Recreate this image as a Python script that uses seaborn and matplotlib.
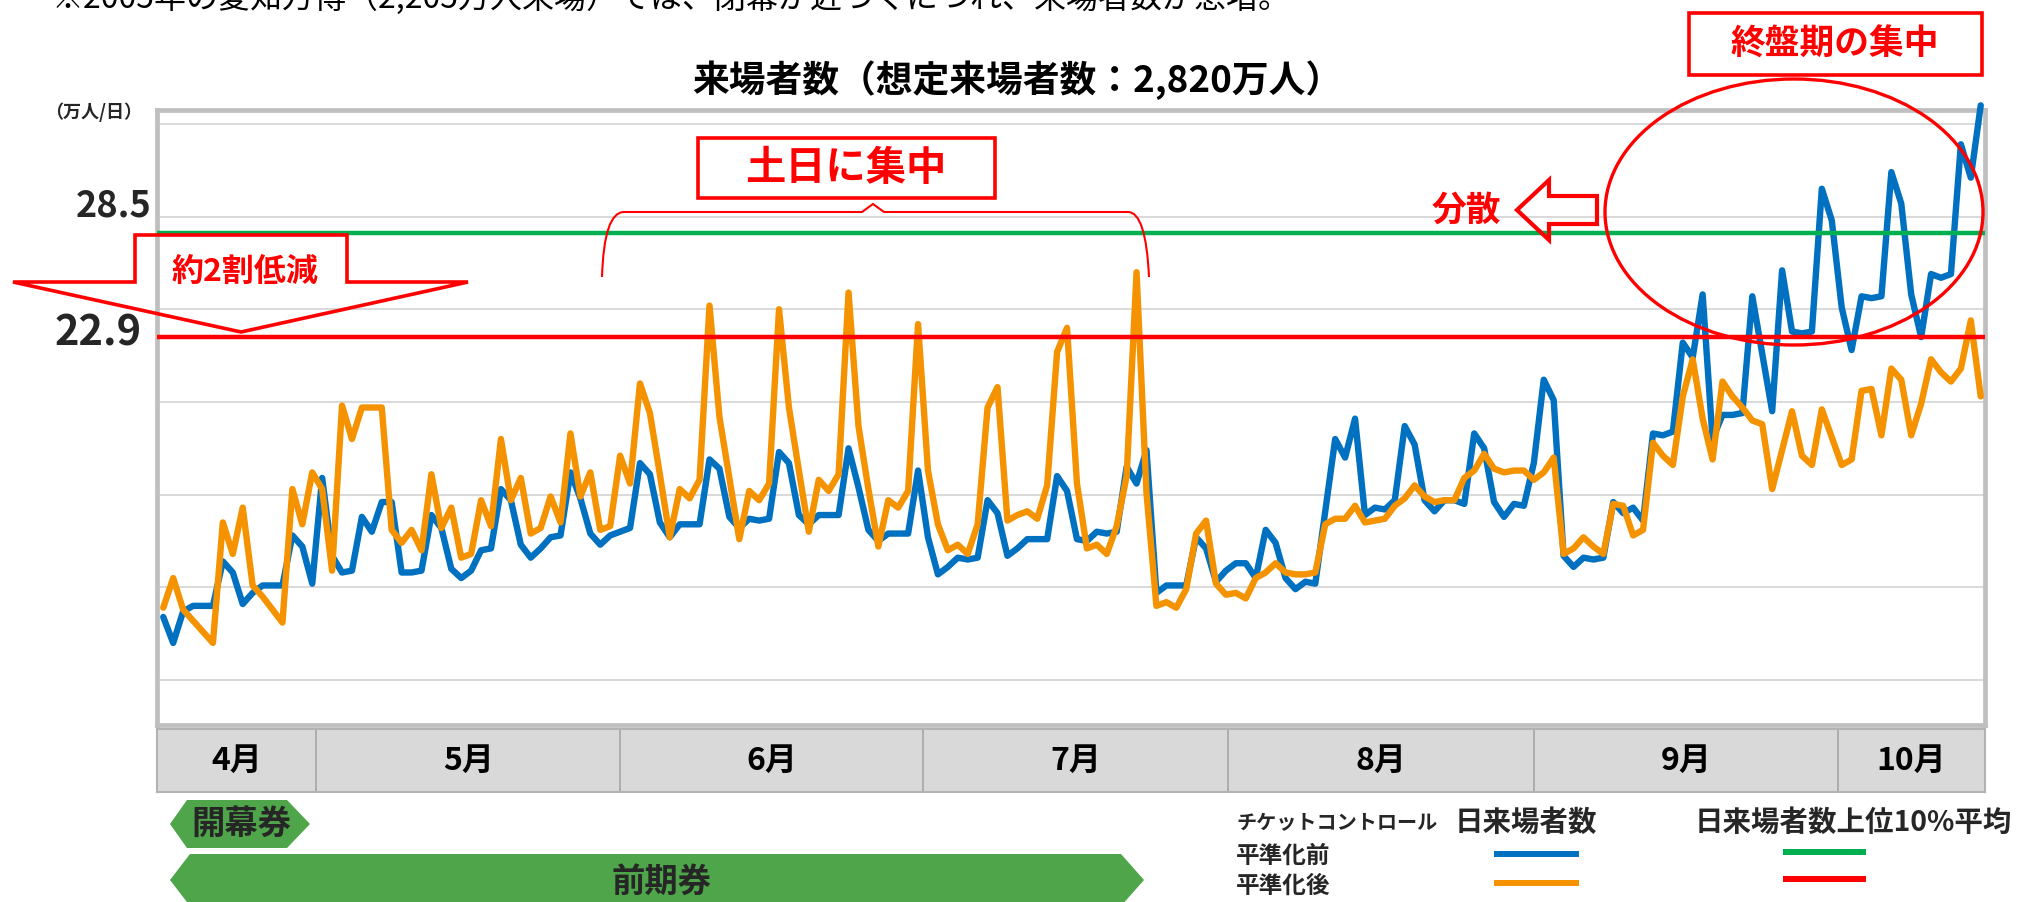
import numpy as np
import pandas as pd
import matplotlib
matplotlib.use("Agg")
import matplotlib.pyplot as plt
from matplotlib.patches import Polygon, Rectangle, Ellipse, PathPatch
from matplotlib.path import Path
import seaborn as sns

# daily visitors (万人/日), 2025-04-13 .. 2025-10-13
before = [
    7.8, 6.4, 8.1, 8.4, 8.4, 8.4, 10.8, 10.2, 8.5, 9.1,
    9.5, 9.5, 9.5, 12.2, 11.6, 9.6, 15.3, 11.1, 10.2, 10.3,
    13.2, 12.4, 14.0, 14.0, 10.2, 10.2, 10.3, 13.3, 12.6, 10.4,
    9.9, 10.3, 11.4, 11.5, 14.7, 14.1, 11.7, 11.0, 11.5, 12.1,
    12.2, 15.6, 14.2, 12.3, 11.7, 12.2, 12.4, 12.6, 16.1, 15.5,
    12.9, 12.1, 12.8, 12.8, 12.8, 16.3, 15.8, 13.2, 12.6, 13.1,
    13.0, 13.1, 16.7, 16.1, 13.3, 12.8, 13.3, 13.3, 13.3, 16.9,
    14.8, 12.5, 11.9, 12.3, 12.3, 12.3, 15.7, 12.1, 10.1, 10.5,
    11.0, 10.9, 11.0, 14.1, 13.4, 11.1, 11.5, 12.0, 12.0, 12.0,
    15.4, 14.6, 12.0, 11.9, 12.4, 12.3, 12.4, 15.9, 15.0, 16.8,
    9.1, 9.5, 9.5, 9.5, 12.1, 11.5, 9.7, 10.3, 10.7, 10.7,
    9.9, 12.5, 11.8, 9.9, 9.3, 9.7, 9.6, 13.5, 17.4, 16.4,
    18.5, 13.3, 13.7, 13.6, 14.1, 18.1, 17.1, 14.1, 13.5, 14.1,
    14.1, 13.9, 17.7, 16.9, 14.0, 13.2, 13.9, 13.8, 16.1, 20.6,
    19.5, 11.1, 10.5, 11.0, 10.9, 11.0, 14.0, 13.4, 13.7, 13.0,
    17.7, 17.6, 17.8, 22.6, 21.8, 25.2, 17.4, 18.7, 18.7, 18.8,
    25.1, 22.0, 18.9, 26.5, 23.2, 23.1, 23.2, 30.9, 29.2, 24.5,
    22.2, 25.1, 25.0, 25.1, 31.8, 30.1, 25.2, 22.9, 26.3, 26.1,
    26.3, 33.3, 31.5, 35.4,
]
after = [
    8.3, 9.9, 8.2, 7.6, 7.0, 6.4, 12.9, 11.2, 13.7, 9.5,
    8.9, 8.2, 7.5, 14.7, 12.8, 15.6, 14.7, 10.3, 19.2, 17.4,
    19.1, 19.1, 19.1, 12.5, 11.8, 12.5, 11.4, 15.5, 12.6, 13.7,
    11.0, 11.2, 14.1, 12.7, 17.4, 14.1, 15.3, 12.3, 12.6, 14.3,
    12.9, 17.7, 14.3, 15.6, 12.5, 12.7, 16.5, 15.0, 20.4, 18.8,
    15.5, 12.1, 14.7, 14.2, 15.2, 24.6, 18.6, 15.3, 12.0, 14.6,
    14.1, 15.0, 24.4, 19.1, 15.7, 12.4, 15.2, 14.6, 15.5, 25.3,
    18.1, 14.7, 11.6, 14.1, 13.7, 14.6, 23.6, 15.7, 12.8, 11.4,
    11.7, 11.2, 12.8, 19.1, 20.2, 13.0, 13.3, 13.5, 13.1, 14.9,
    22.1, 23.4, 15.0, 11.5, 11.7, 11.2, 12.7, 15.4, 26.4, 14.5,
    8.4, 8.6, 8.3, 9.3, 12.3, 13.0, 9.6, 9.0, 9.1, 8.8,
    9.9, 10.2, 10.7, 10.2, 10.1, 10.1, 10.2, 12.8, 13.1, 13.1,
    13.8, 12.9, 13.0, 13.1, 13.8, 14.2, 14.9, 14.3, 14.0, 14.1,
    14.1, 15.3, 15.7, 16.6, 15.8, 15.6, 15.7, 15.7, 15.2, 15.6,
    16.4, 11.2, 11.5, 12.1, 11.6, 11.2, 13.9, 13.8, 12.2, 12.5,
    17.2, 16.5, 16.0, 19.7, 21.7, 18.5, 16.3, 20.5, 19.7, 19.1,
    18.4, 18.2, 14.7, 16.8, 18.9, 16.5, 16.0, 19.0, 17.5, 16.0,
    16.3, 20.0, 20.1, 17.6, 21.2, 20.6, 17.6, 19.3, 21.7, 21.0,
    20.5, 21.2, 23.8, 19.7,
]
top10_before = 28.5   # 日来場者数上位10%平均 (平準化前)
top10_after = 22.9    # 日来場者数上位10%平均 (平準化後)

months = ["4月", "5月", "6月", "7月", "8月", "9月", "10月"]
month_edges = [15.4, 46.0, 76.5, 107.2, 138.0, 168.6]  # day index of month dividers in the band

BLUE = "#0070C0"
ORANGE = "#F59200"
GREEN = "#00B050"
RED = "#FF0000"
PASS_GREEN = "#4EA54A"

days = np.arange(len(before))
df = pd.DataFrame({"day": days, "平準化前": before, "平準化後": after})

sns.set_theme(style="white")
plt.rcParams["font.family"] = ["Noto Sans CJK JP", "DejaVu Sans"]
plt.rcParams["font.weight"] = "bold"

W, H = 2024, 902
fig = plt.figure(figsize=(W / 100, H / 100), dpi=100)


def box(x0, y0, x1, y1):
    # pixel box (top-left origin) -> figure fraction rect
    return [x0 / W, 1 - y1 / H, (x1 - x0) / W, (y1 - y0) / H]


# main chart
ax = fig.add_axes(box(157.5, 110, 1985, 724.5))
sns.lineplot(data=df, x="day", y="平準化前", ax=ax, color=BLUE, lw=4.6,
             clip_on=False, zorder=3, solid_joinstyle="round")
sns.lineplot(data=df, x="day", y="平準化後", ax=ax, color=ORANGE, lw=4.6,
             clip_on=False, zorder=4, solid_joinstyle="round")
ax.axhline(top10_before, color=GREEN, lw=3.2, zorder=5)
ax.axhline(top10_after, color=RED, lw=3.2, zorder=5)

xlim = (-0.58, 183.43)
ax.set_xlim(*xlim)
ax.set_ylim(2.0, 35.15)
ax.set_yticks(np.arange(4.4, 35, 5))
ax.yaxis.grid(True, color="#d9d9d9", lw=1.4)
ax.set_axisbelow(True)
ax.set_xticks([])
ax.tick_params(left=False, labelleft=False)
ax.set_xlabel("")
ax.set_ylabel("")
for s in ax.spines.values():
    s.set_color("#bfbfbf")
    s.set_linewidth(3.4)

# month band
mx = fig.add_axes(box(157.5, 729, 1985, 792))
mx.set_facecolor("#d9d9d9")
mx.set_xlim(*xlim)
mx.set_ylim(0, 1)
mx.set_xticks([])
mx.set_yticks([])
for s in mx.spines.values():
    s.set_color("#b3b3b3")
    s.set_linewidth(1.5)
for e in month_edges:
    mx.axvline(e, color="#a6a6a6", lw=1.2)
bounds = [xlim[0]] + month_edges + [xlim[1]]
for m, a, b in zip(months, bounds[:-1], bounds[1:]):
    mx.text((a + b) / 2, 0.5, m, ha="center", va="center", fontsize=23,
            fontweight="bold", color="black")

# overlay in pixel coordinates for the slide annotations
ov = fig.add_axes([0, 0, 1, 1], zorder=10)
ov.set_xlim(0, W)
ov.set_ylim(H, 0)
ov.axis("off")

ov.text(52, -2, "※2005年の愛知万博（2,205万人来場）では、閉幕が近づくにつれ、来場者数が急増。",
        ha="left", va="center", fontsize=23, fontweight="normal", color="black")
ov.text(1017, 80, "来場者数（想定来場者数：2,820万人）", ha="center", va="center",
        fontsize=26.5, fontweight="bold", color="black")
ov.text(94, 112, "（万人/日）", ha="center", va="center", fontsize=13, fontweight="bold")
ov.text(114, 206, "28.5", ha="center", va="center", fontsize=26, fontweight="bold")
ov.text(98, 334, "22.9", ha="center", va="center", fontsize=30, fontweight="bold")

# 約2割低減 down arrow
ov.add_patch(Polygon([(135, 235), (347, 235), (347, 282), (468, 282), (241, 332),
                      (13, 282), (135, 282)], closed=True, fill=False, ec=RED, lw=2.6))
ov.text(245, 272, "約2割低減", ha="center", va="center", fontsize=23,
        fontweight="bold", color=RED)

# 土日に集中 box + brace
ov.add_patch(Rectangle((698, 138), 297, 60, fill=True, fc="white", ec=RED, lw=2.6))
ov.text(846, 168, "土日に集中", ha="center", va="center", fontsize=29,
        fontweight="bold", color=RED)
brace = Path([(602, 277), (604, 212), (624, 212), (862, 212), (873, 204), (884, 212),
              (1128, 212), (1146, 212), (1149, 277)],
             [Path.MOVETO, Path.CURVE3, Path.CURVE3, Path.LINETO, Path.LINETO,
              Path.LINETO, Path.LINETO, Path.CURVE3, Path.CURVE3])
ov.add_patch(PathPatch(brace, fill=False, ec=RED, lw=1.5))

# 分散 hollow arrow
ov.text(1466, 210, "分散", ha="center", va="center", fontsize=25,
        fontweight="bold", color=RED)
ov.add_patch(Polygon([(1517, 210), (1549, 180), (1549, 196), (1597, 196),
                      (1597, 224), (1549, 224), (1549, 240)],
                     closed=True, fill=False, ec=RED, lw=3.0))

# 終盤期の集中 box + ellipse
ov.add_patch(Rectangle((1689, 13), 293, 62, fill=True, fc="white", ec=RED, lw=2.6))
ov.text(1835, 44, "終盤期の集中", ha="center", va="center", fontsize=25,
        fontweight="bold", color=RED)
ov.add_patch(Ellipse((1794, 212), 378, 266, fill=False, ec=RED, lw=2.4))

# ticket periods
ov.add_patch(Polygon([(170, 824), (187, 800), (287, 800), (310, 824), (287, 848), (187, 848)],
                     closed=True, fc=PASS_GREEN, ec="none"))
ov.text(241, 824, "開幕券", ha="center", va="center", fontsize=24, fontweight="bold")
ov.add_patch(Polygon([(170, 880), (190, 854), (1121, 854), (1144, 880), (1121, 906), (190, 906)],
                     closed=True, fc=PASS_GREEN, ec="none", clip_on=False))
ov.text(662, 882, "前期券", ha="center", va="center", fontsize=24, fontweight="bold")

# legend
ov.text(1236, 823, "チケットコントロール", ha="left", va="center", fontsize=14.5, fontweight="bold")
ov.text(1455, 823, "日来場者数", ha="left", va="center", fontsize=20.5, fontweight="bold")
ov.text(1695, 823, "日来場者数上位10%平均", ha="left", va="center", fontsize=20.5, fontweight="bold")
ov.text(1236, 856, "平準化前", ha="left", va="center", fontsize=17, fontweight="bold")
ov.text(1236, 886, "平準化後", ha="left", va="center", fontsize=17, fontweight="bold")
ov.plot([1494, 1579], [854, 854], color=BLUE, lw=4.3, solid_capstyle="butt")
ov.plot([1494, 1579], [883, 883], color=ORANGE, lw=4.3, solid_capstyle="butt")
ov.plot([1783, 1866], [852, 852], color=GREEN, lw=4.3, solid_capstyle="butt")
ov.plot([1783, 1866], [879, 879], color=RED, lw=4.3, solid_capstyle="butt")

fig.savefig("out.png", dpi=100)
plt.close(fig)
